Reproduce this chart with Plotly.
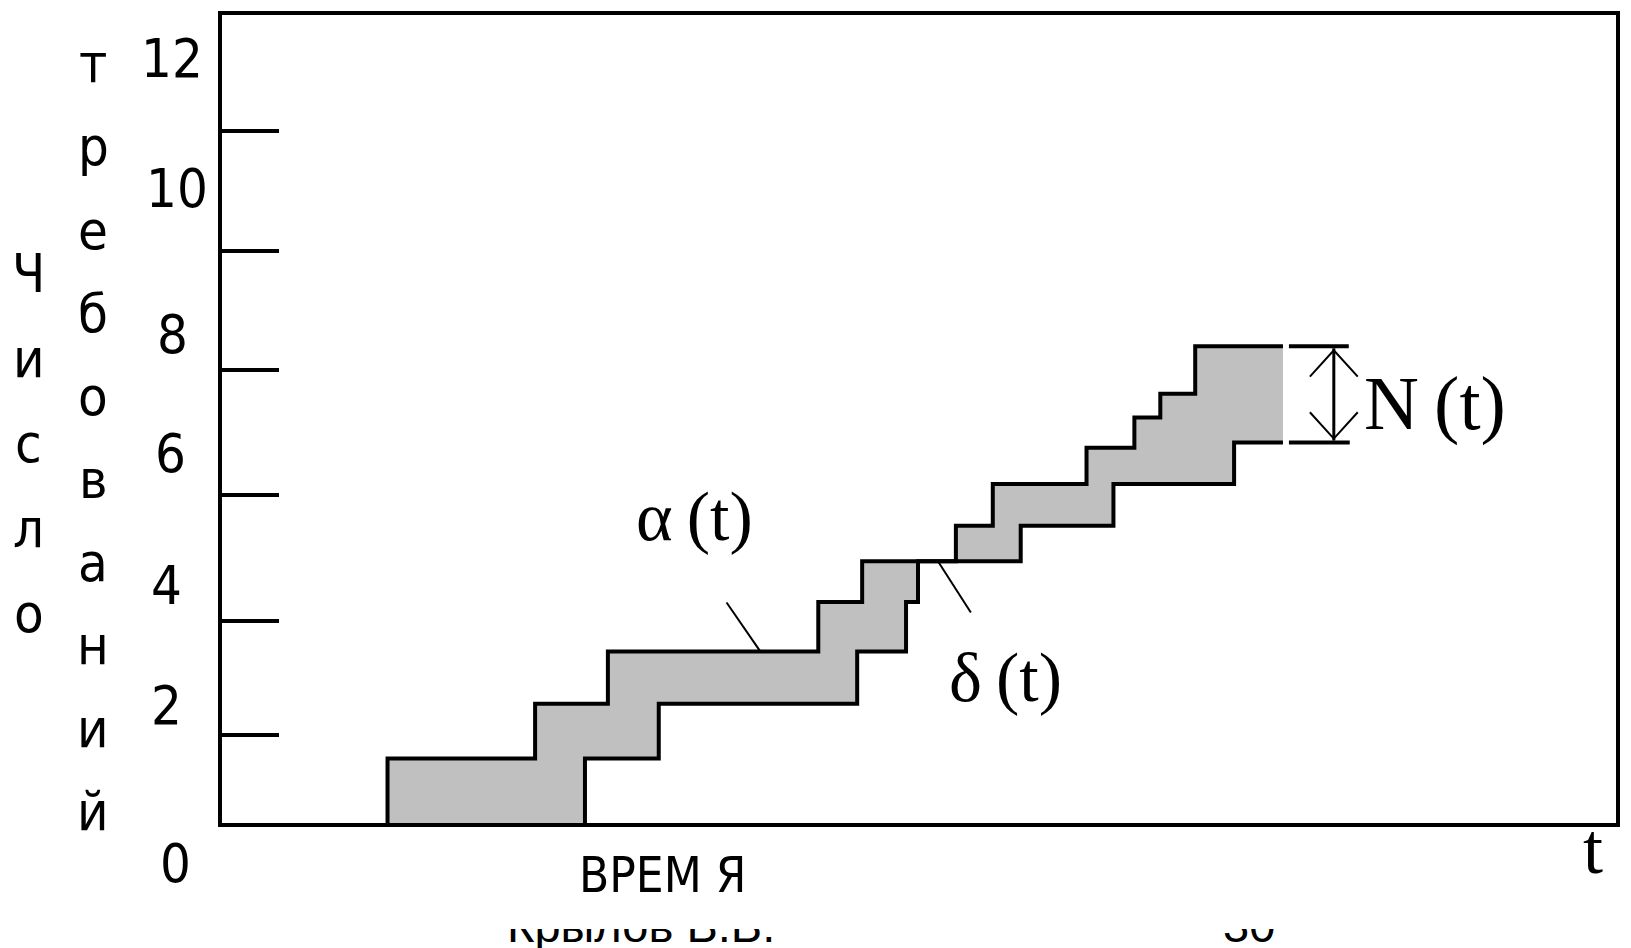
import plotly.graph_objects as go

# Arrivals α(t): moments of each arrival and the cumulative count after it
alpha_times = [1.66, 3.14, 3.87, 5.98, 6.42, 7.36, 7.73, 8.67, 9.15, 9.41, 9.76]
alpha_counts = [0.98, 1.81, 2.60, 3.35, 3.97, 4.51, 5.14, 5.69, 6.15, 6.51, 7.23]

# Departures δ(t): moments of each departure and the cumulative count after it
delta_times = [3.64, 4.38, 6.37, 6.86, 6.98, 8.01, 8.94, 10.15]
delta_counts = [0.98, 1.81, 2.60, 3.35, 3.97, 4.51, 5.14, 5.77]

# observation ends here
t_end = 10.64

# vertical axis
count_tick_values = [0, 2, 4, 6, 8, 10, 12]
count_tick_labels = ["0", "2", "4", "6", "8", "10", "12"]
count_tick_marks = [1.33, 3.06, 4.98, 6.87, 8.68, 10.50]

axis_title_col1 = "Число"
axis_title_col2 = "требований"
time_title = "ВРЕМ Я"

# ---- geometry of the page (pixels) ----
W, H = 1631, 948
X0, Y0 = 222, 823          # pixel of t = 0 / count = 0
X1, Y1 = 1620, 13          # right / top edge of the frame
PX_T, PX_N = 100.0, 66.1   # pixels per unit on each axis
X_MAX = (X1 - X0) / PX_T
Y_MAX = (Y0 - Y1) / PX_N


def at(px, py):
    """Page pixel -> axis coordinates."""
    return (px - X0) / PX_T, (Y0 - py) / PX_N


def paper(px, py):
    """Page pixel -> paper coordinates of the plotting area."""
    return (px - X0) / (X1 - X0), (Y0 - py) / (Y0 - Y1)


def staircase(times, counts, end):
    xs, ys = [], []
    prev = 0.0
    for t, c in zip(times, counts):
        xs += [t, t]
        ys += [prev, c]
        prev = c
    xs.append(end)
    ys.append(prev)
    return xs, ys


ax_, ay_ = staircase(alpha_times, alpha_counts, t_end)
dx_, dy_ = staircase(delta_times, delta_counts, t_end)

SANS_N = "Liberation Sans Narrow, DejaVu Sans Condensed, Liberation Sans, Arial, sans-serif"
SANS = "Liberation Sans, Arial, sans-serif"
SERIF = "Liberation Serif, Times New Roman, serif"
LINE_W = 4

fig = go.Figure()

# shaded region between α(t) and δ(t)
fig.add_trace(go.Scatter(
    x=ax_ + dx_[::-1], y=ay_ + dy_[::-1],
    fill="toself", fillcolor="#c0c0c0",
    mode="lines", line=dict(width=0, color="rgba(0,0,0,0)"),
    hoverinfo="skip", showlegend=False))

for xs, ys, name in [(ax_, ay_, "α(t)"), (dx_, dy_, "δ(t)")]:
    fig.add_trace(go.Scatter(
        x=xs, y=ys, mode="lines", name=name,
        line=dict(color="black", width=LINE_W),
        showlegend=False))

shapes = []
n_top, n_bot = alpha_counts[-1], delta_counts[-1]
bx0 = t_end + 0.06
# N(t) bracket: horizontal caps, shaft and open arrowheads
shapes.append(dict(type="line", x0=bx0, x1=t_end + 0.66, y0=n_top, y1=n_top,
                   line=dict(color="black", width=LINE_W)))
shapes.append(dict(type="line", x0=bx0, x1=t_end + 0.67, y0=n_bot, y1=n_bot,
                   line=dict(color="black", width=LINE_W)))
sx = t_end + 0.51
shapes.append(dict(type="line", x0=sx, x1=sx, y0=n_top - 0.03, y1=n_bot + 0.03,
                   line=dict(color="black", width=3)))
hw, hl = 0.24, 0.40
for tip, sgn in [(n_top - 0.06, -1), (n_bot + 0.06, 1)]:
    shapes.append(dict(
        type="path",
        path=f"M {sx - hw},{tip + sgn * hl} L {sx},{tip} L {sx + hw},{tip + sgn * hl}",
        line=dict(color="black", width=2)))

# leader lines for the curve labels
p1 = at(728, 602)
shapes.append(dict(type="line", x0=p1[0], y0=p1[1], x1=5.40, y1=alpha_counts[2],
                   line=dict(color="black", width=2)))
p2 = at(973, 612)
shapes.append(dict(type="line", x0=7.18, y0=delta_counts[4], x1=p2[0], y1=p2[1],
                   line=dict(color="black", width=2)))

annotations = []


def label(text, px, py, size, family, color="black", **kw):
    x, y = paper(px, py)
    annotations.append(dict(x=x, y=y, xref="paper", yref="paper", text=text,
                            showarrow=False, xanchor="center", yanchor="middle",
                            font=dict(size=size, family=family, color=color), **kw))


# count labels (drawn a little off their nominal height, as on the page)
label_px_x = [175, 166, 166, 170, 172, 177, 172]
label_shift = [-40, -14, -26, -26, -39, -25, -27]
for v, txt, px, dy in zip(count_tick_values, count_tick_labels, label_px_x, label_shift):
    annotations.append(dict(x=(px - X0) / (X1 - X0), y=v / Y_MAX,
                            xref="paper", yref="paper", text=txt,
                            yshift=dy, showarrow=False, xanchor="center", yanchor="middle",
                            font=dict(size=54, family=SANS_N, color="black")))

# vertical axis title, one letter per line
for i, ch in enumerate(axis_title_col1):
    label(ch, 28, 272 + 85.2 * i, 54, SANS_N)
for i, ch in enumerate(axis_title_col2):
    label(ch, 93, 62 + 83.3 * i, 54, SANS_N)

label(time_title, 664, 876, 49, SANS_N)
label("t", 1597, 849, 72, SERIF)
label("α\u2009(t)", 696, 516, 70, SERIF)
label("δ\u2009(t)", 1008, 677, 70, SERIF)
label("N\u2009(t)", 1438, 402, 76, SERIF)

# page footer, partly hidden under the drawing
label("Крылов В.В.", 642, 926, 47, SANS)
label("30", 1252, 926, 47, SANS)
# white strip of the drawing lying over the footer's upper part
label("█" * 40, 900, 916, 20, SANS, color="white",
      width=900, height=27, bgcolor="white", borderpad=0, borderwidth=0)

fig.update_layout(
    width=W, height=H,
    margin=dict(l=X0, r=W - X1, t=Y1, b=H - Y0, pad=0),
    paper_bgcolor="white", plot_bgcolor="white",
    shapes=shapes, annotations=annotations,
    xaxis=dict(range=[0, X_MAX], showline=True, linewidth=LINE_W, linecolor="black",
               mirror=True, showgrid=False, zeroline=False, showticklabels=False,
               ticks="", fixedrange=True),
    yaxis=dict(range=[0, Y_MAX], showline=True, linewidth=LINE_W, linecolor="black",
               mirror=True, showgrid=False, zeroline=False, showticklabels=False,
               ticks="inside", tickvals=count_tick_marks, ticklen=57, tickwidth=4,
               tickcolor="black", fixedrange=True),
)

fig.write_html("out.html")
